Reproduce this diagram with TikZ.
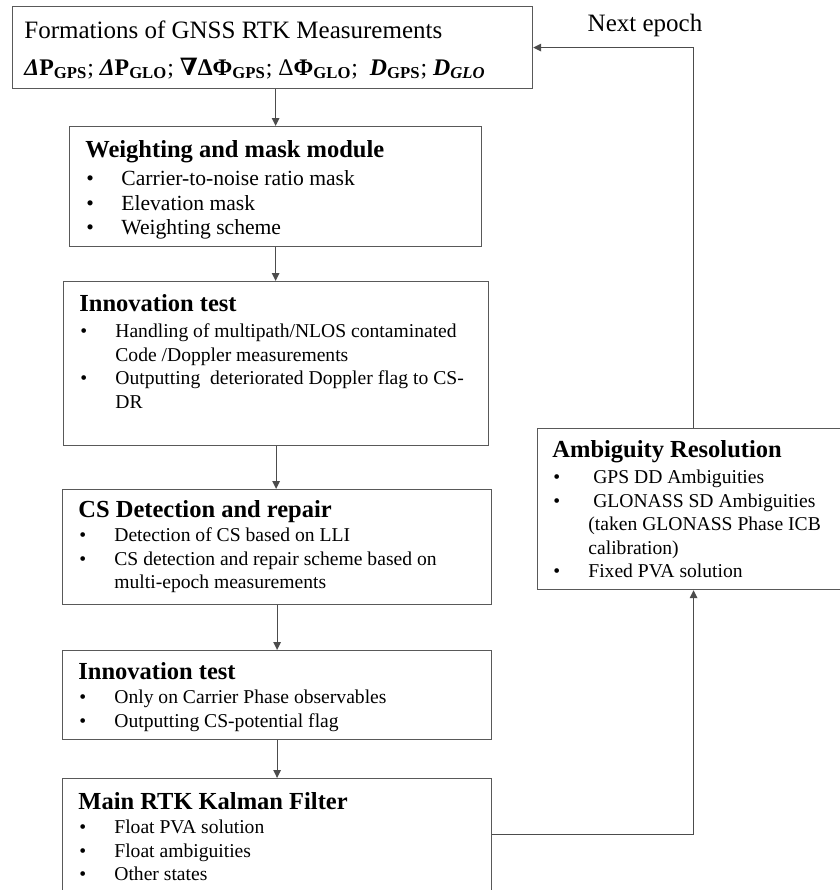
\documentclass[tikz,border=0pt]{standalone}
\usepackage{fontspec}
\setmainfont{Liberation Serif}
\newfontfamily\nablafont{DejaVu Serif}
\usetikzlibrary{positioning,arrows.meta}
\newcommand{\bul}[1]{\makebox[18pt][l]{\hspace{0.5pt}\textbullet}#1}
\newcommand{\cont}{\hspace*{18pt}}
\newcommand{\hd}[1]{{\fontsize{12.25}{13}\selectfont\bfseries #1}}

\begin{document}
\begin{tikzpicture}[x=0.5pt,y=-0.5pt,
    box/.style={draw=black!65,line width=0.6pt,rectangle,inner sep=0pt,anchor=north west},
    txt/.style={anchor=north west,inner sep=0pt,align=left,font=\fontsize{9.8}{11.7}\selectfont},
    conn/.style={draw=black!70,line width=0.6pt,-{Triangle[length=4pt,width=3.8pt]}}]
\useasboundingbox (0,0) rectangle (840,890);
\clip (0,0) rectangle (840,890);
% boxes
\node[box,minimum width=260pt,minimum height=41pt] (form) at (12,6) {};
\node[box,minimum width=206pt,minimum height=60pt] (weight) at (69,126) {};
\node[box,minimum width=212.5pt,minimum height=82pt] (innova) at (63,281) {};
\node[box,minimum width=214.5pt,minimum height=57.5pt] (csdet) at (62,489) {};
\node[box,minimum width=214.5pt,minimum height=44.5pt] (innovb) at (62,650) {};
\node[box,minimum width=214.5pt,minimum height=56pt] (rtk) at (62,778) {};
\node[box,minimum width=156pt,minimum height=80.5pt] (amb) at (537,428) {};
% texts
\node[txt,font=\fontsize{12.5}{18.5}\selectfont] (formlbl) at (24,20) {Formations of GNSS RTK Measurements\\
  \fontsize{11.9}{18.5}\selectfont{\bfseries\itshape Δ}\textbf{P}\textsubscript{\bfseries GPS}; {\bfseries\itshape Δ}\textbf{P}\textsubscript{\bfseries GLO}; {\nablafont\bfseries ∇}\textbf{ΔΦ}\textsubscript{\bfseries GPS}; Δ\textbf{Φ}\textsubscript{\bfseries GLO};\ \ {\bfseries\itshape D}\textsubscript{\bfseries GPS}; {\bfseries\itshape D}\textsubscript{\bfseries\itshape GLO}};
\node[txt,font=\fontsize{10.8}{12.2}\selectfont] (weightlbl) at (85,140) {\hd{Weighting and mask module}\\[2pt]
  \bul{Carrier-to-noise ratio mask}\\ \bul{Elevation mask}\\ \bul{Weighting scheme}};
\node[txt] (innovalbl) at (79,294) {\hd{Innovation test}\\[1.5pt]
  \bul{Handling of multipath/NLOS contaminated}\\ \cont Code /Doppler measurements\\
  \bul{Outputting\ \ deteriorated Doppler flag to CS-}\\ \cont DR};
\node[txt] (csdetlbl) at (78,500) {\hd{CS Detection and repair}\\[0.5pt]
  \bul{Detection of CS based on LLI}\\ \bul{CS detection and repair scheme based on}\\ \cont multi-epoch measurements};
\node[txt] (innovblbl) at (78,662) {\hd{Innovation test}\\[0.5pt]
  \bul{Only on Carrier Phase observables}\\ \bul{Outputting CS-potential flag}};
\node[txt] (rtklbl) at (78,792) {\hd{Main RTK Kalman Filter}\\[0.5pt]
  \bul{Float PVA solution}\\ \bul{Float ambiguities}\\ \bul{Other states}};
\node[txt] (amblbl) at (552,440) {\hd{Ambiguity Resolution}\\[1.5pt]
  \bul{\ GPS DD Ambiguities}\\ \bul{\ GLONASS SD Ambiguities}\\ \cont(taken GLONASS Phase ICB\\ \cont calibration)\\
  \bul{Fixed PVA solution}};
\node[font=\fontsize{12.5}{14}\selectfont,inner sep=0pt] (nextlbl) at (645,25) {Next epoch};
% connectors
\draw[conn] (weight.north |- form.south) -- (weight.north);
\draw[conn] (weight.south) -- (weight.south |- innova.north);
\draw[conn] (innova.south) -- (innova.south |- csdet.north);
\draw[conn] (csdet.south) -- (innovb.north);
\draw[conn] (innovb.south) -- (rtk.north);
\draw[conn] (rtk.east) -| (amb.south);
\draw[conn] (amb.north) |- (form.east);
\end{tikzpicture}
\end{document}
